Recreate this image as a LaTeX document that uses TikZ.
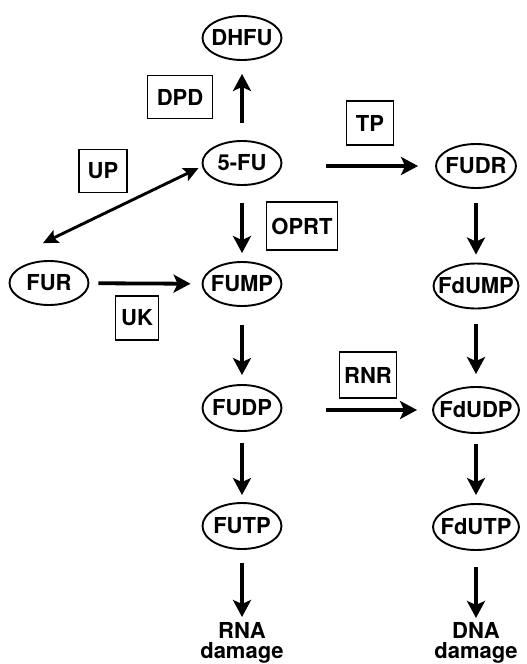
\documentclass[tikz,border=0pt]{standalone}
\usepackage{fontspec}
\setmainfont{TeX Gyre Heros}
\usetikzlibrary{shapes.geometric,arrows.meta,calc}
\begin{document}
\begin{tikzpicture}[x=1pt,y=-1pt,
  lab/.style={font=\fontsize{22}{20}\selectfont\bfseries},
  mol/.style={lab,draw,ellipse,line width=1.9pt,inner sep=0pt,minimum width=79pt,minimum height=44pt},
  enz/.style={lab,draw,rectangle,line width=1.7pt,inner sep=0pt},
  arr/.style={line width=3.8pt,-{Stealth[length=17pt,width=18pt,inset=4pt]}},
  darr/.style={line width=2.9pt,{Stealth[length=15pt,width=14pt,inset=3pt]}-{Stealth[length=15pt,width=14pt,inset=3pt]}},
  txt/.style={lab,align=center,inner sep=0pt,anchor=north}
]
\useasboundingbox (0,0) rectangle (527,664);
% molecules
\node[mol] (dhfu) at (242,38) {\makebox[0pt]{DHFU}};
\node[mol] (fu) at (242,163) {\makebox[0pt]{5-FU}};
\node[mol,minimum width=80pt,minimum height=44pt] (fudr) at (476,166) {\makebox[0pt]{FUDR}};
\node[mol] (fur) at (49,283) {\makebox[0pt]{FUR}};
\node[mol,minimum width=79pt] (fump) at (242,284) {\makebox[0pt]{FUMP}};
\node[mol,minimum width=85pt,minimum height=45pt] (fdump) at (476,286) {\makebox[0pt]{FdUMP}};
\node[mol,minimum height=46pt] (fudp) at (242,408) {\makebox[0pt]{FUDP}};
\node[mol,minimum width=86pt,minimum height=46pt] (fdudp) at (476,410) {\makebox[0pt]{FdUDP}};
\node[mol,minimum height=46pt] (futp) at (242,526) {\makebox[0pt]{FUTP}};
\node[mol,minimum width=86pt,minimum height=46pt] (fdutp) at (476,527) {\makebox[0pt]{FdUTP}};
\node[txt] (rna) at (242,622) {RNA\\damage};
\node[txt] (dna) at (476,622) {DNA\\damage};
% enzymes
\node[enz,minimum width=65pt,minimum height=43pt] (dpd) at (180,97) {DPD};
\node[enz,minimum width=47pt,minimum height=44pt] (tp) at (370,123) {TP};
\node[enz,minimum width=48pt,minimum height=43pt] (up) at (103,171) {UP};
\node[enz,minimum width=71pt,minimum height=48pt] (oprt) at (302,226) {OPRT};
\node[enz,minimum width=43pt,minimum height=44pt] (uk) at (137,318) {UK};
\node[enz,minimum width=57pt,minimum height=46pt] (rnr) at (368,375) {RNR};
% connectors
\draw[arr,shorten <=17pt,shorten >=13pt] (fu) -- (dhfu);
\draw[arr,shorten <=44pt,shorten >=17pt] (fu.east |- fudr) -- (fudr);
\draw[arr,shorten <=17pt,shorten >=8pt] (fu) -- (fump);
\draw[arr,shorten <=14pt,shorten >=8pt] (fudr) -- (fdump);
\draw[arr,shorten <=9pt,shorten >=11pt] (fur) -- (fump);
\draw[arr,shorten <=18pt,shorten >=9pt] (fump) -- (fudp);
\draw[arr,shorten <=15pt,shorten >=12pt] (fdump) -- (fdudp);
\draw[arr,shorten <=44pt,shorten >=15pt] (fudp.east |- fdudp) -- (fdudp);
\draw[arr,shorten <=11pt,shorten >=7pt] (fudp) -- (futp);
\draw[arr,shorten <=10pt,shorten >=8pt] (fdudp) -- (fdutp);
\draw[arr,shorten <=13pt,shorten >=5pt] (futp) -- (rna);
\draw[arr,shorten <=16pt,shorten >=4pt] (fdutp) -- (dna);
\coordinate (upa) at ($(fur.north)+(-6,-17)$);
\coordinate (upb) at ($(fu.west)+(-3,5)$);
\draw[darr] (upa) -- (upb);
\end{tikzpicture}
\end{document}
